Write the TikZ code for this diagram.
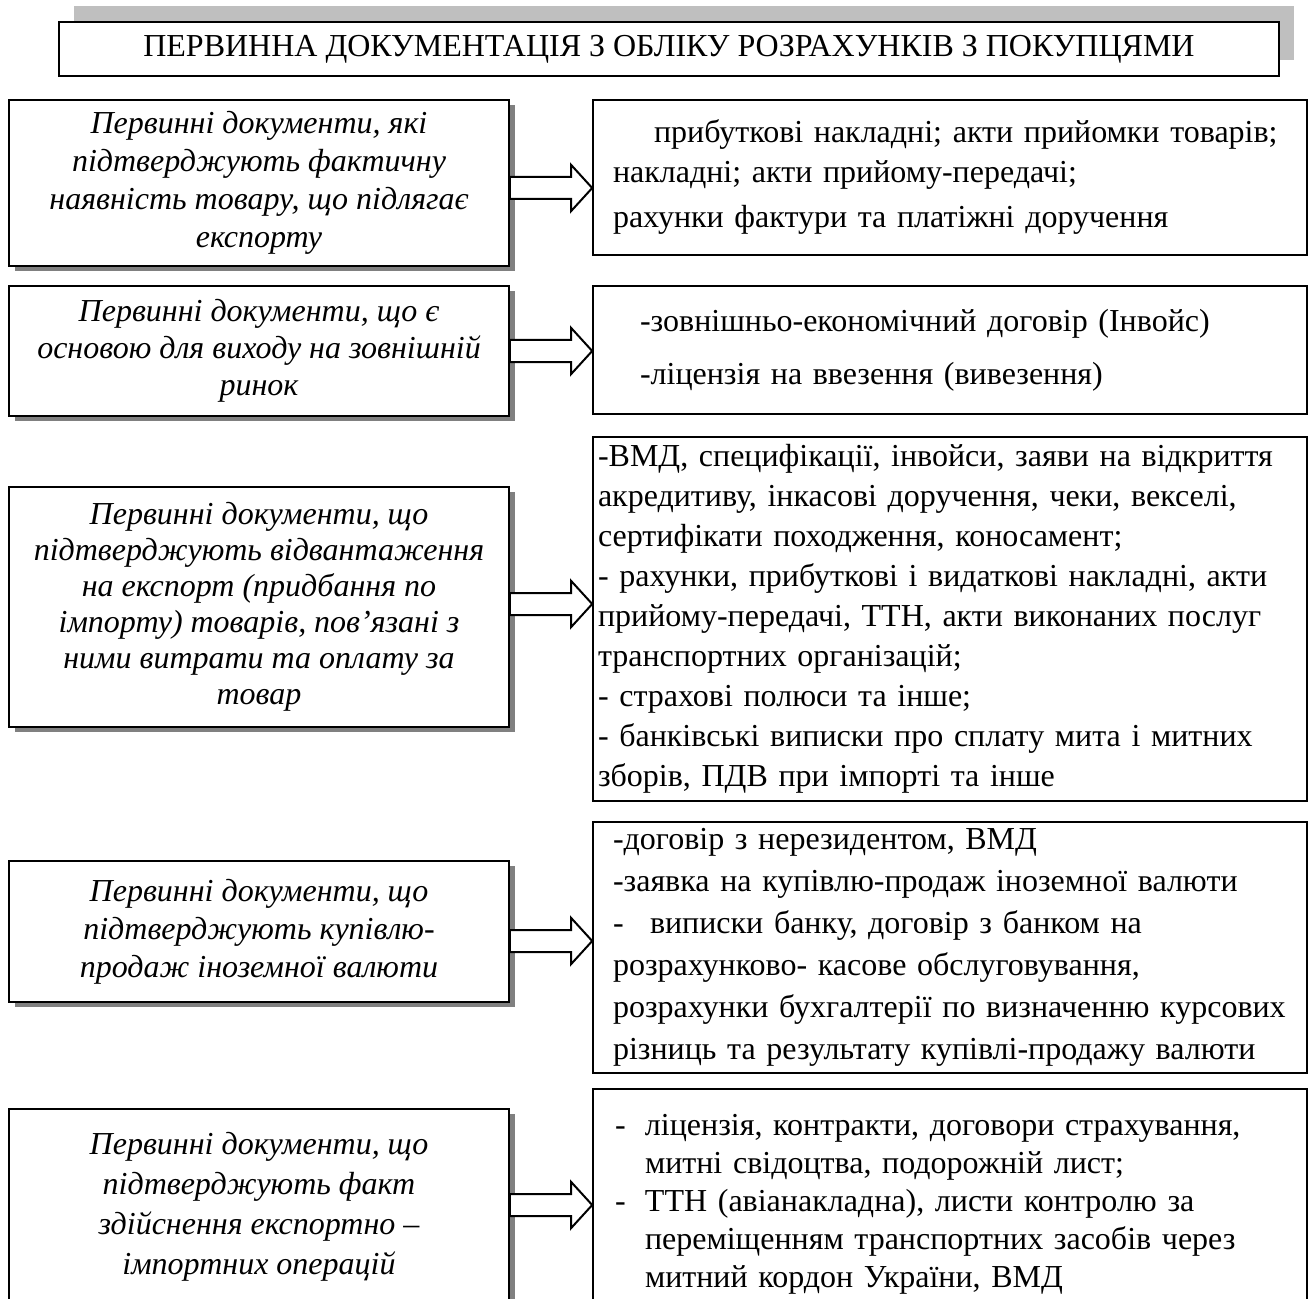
\documentclass[tikz,border=0pt]{standalone}
\usepackage{fontspec}
\setmainfont{Liberation Serif}
\usetikzlibrary{calc,shadows}

\newcommand{\fatarrow}[3]{%
    \draw[fatarrowline] let \p1=(#1.east), \p2=(#2.west), \p3=(0,#3) in
        (\x1,\y3+5.5pt) -- (\x2-10.5pt,\y3+5.5pt) -- (\x2-10.5pt,\y3+11.5pt) -- (\x2,\y3)
        -- (\x2-10.5pt,\y3-11.5pt) -- (\x2-10.5pt,\y3-5.5pt) -- (\x1,\y3-5.5pt) -- cycle;}

\begin{document}
\begin{tikzpicture}[x=0.5pt, y=-0.5pt,
        titlebox/.style={draw, fill=white, line width=0.8pt, minimum width=610pt, minimum height=27pt,
            font=\fontsize{16}{19}\selectfont,
            general shadow={fill=black!25, shadow xshift=7.5pt, shadow yshift=8pt}},
        leftbox/.style={draw, fill=white, line width=0.8pt, minimum width=250pt, align=center,
            general shadow={fill=black!50, shadow xshift=3pt, shadow yshift=-2.5pt}},
        rightbox/.style={draw, fill=white, line width=0.8pt, minimum width=357pt, text width=352pt,
            inner xsep=2.5pt, align=left},
        fatarrowline/.style={draw, fill=white, line width=1pt}]
    \useasboundingbox (0,0) rectangle (1310,1299);

    \node[titlebox] (title) at (669,49) {ПЕРВИННА ДОКУМЕНТАЦІЯ З ОБЛІКУ РОЗРАХУНКІВ З ПОКУПЦЯМИ};

    \begin{scope}
        \node[leftbox, minimum height=83pt, font=\itshape\fontsize{16}{19}\selectfont] (prim1) at (259,183)
            {Первинні документи, які\\підтверджують фактичну\\наявність товару, що підлягає\\експорту};
        \node[leftbox, minimum height=65pt, font=\itshape\fontsize{16}{18.5}\selectfont] (prim2) at (259,351)
            {Первинні документи, що є\\основою для виходу на зовнішній\\ринок};
        \node[leftbox, minimum height=120pt, font=\itshape\fontsize{16}{18}\selectfont] (prim3) at (259,607)
            {Первинні документи, що\\підтверджують відвантаження\\на експорт (придбання по\\імпорту) товарів, пов’язані з\\ними витрати та оплату за\\товар};
        \node[leftbox, minimum height=70.5pt, font=\itshape\fontsize{16}{19}\selectfont] (prim4) at (259,931.5)
            {Первинні документи, що\\підтверджують купівлю-\\продаж іноземної валюти};
        \node[leftbox, minimum height=98pt, font=\itshape\fontsize{16}{20}\selectfont] (prim5) at (259,1207)
            {Первинні документи, що\\підтверджують факт\\здійснення експортно –\\імпортних операцій};
    \end{scope}

    \begin{scope}
        \node[rightbox, minimum height=77.5pt, font=\fontsize{16}{20}\selectfont] (docs1) at (950,177.5)
            {\leftskip=7.5pt \hspace*{20.5pt}прибуткові накладні; акти прийомки товарів;\\
            накладні; акти прийому-передачі;\\[2.5pt]
            рахунки фактури та платіжні доручення\par};
        \node[rightbox, minimum height=64pt, font=\fontsize{16}{20}\selectfont] (docs2) at (950,350)
            {\leftskip=21pt -зовнішньо-економічний договір (Інвойс)\\[6.5pt]
            -ліцензія на ввезення (вивезення)\par};
        \node[rightbox, minimum height=182pt, font=\fontsize{16}{20}\selectfont] (docs3) at (950,619)
            {-ВМД, специфікації, інвойси, заяви на відкриття\\
            акредитиву, інкасові доручення, чеки, векселі,\\
            сертифікати походження, коносамент;\\
            - рахунки, прибуткові і видаткові накладні, акти\\
            прийому-передачі, ТТН, акти виконаних послуг\\
            транспортних організацій;\\
            - страхові полюси та інше;\\
            - банківські виписки про сплату мита і митних\\
            зборів, ПДВ при імпорті та інше\par};
        \node[rightbox, minimum height=124.5pt, font=\fontsize{16}{21}\selectfont] (docs4) at (950,947.5)
            {\leftskip=7.5pt -договір з нерезидентом, ВМД\\
            -заявка на купівлю-продаж іноземної валюти\\
            \makebox[18.5pt][l]{-}виписки банку, договір з банком на\\
            розрахунково- касове обслуговування,\\
            розрахунки бухгалтерії по визначенню курсових\\
            різниць та результату купівлі-продажу валюти\par};
        \node[rightbox, minimum height=115.5pt, font=\fontsize{16}{19}\selectfont] (docs5) at (950,1204.5)
            {\leftskip=8.5pt \makebox[15pt][l]{-}ліцензія, контракти, договори страхування,\\
            \hspace*{15pt}митні свідоцтва, подорожній лист;\\
            \makebox[15pt][l]{-}ТТН (авіанакладна), листи контролю за\\
            \hspace*{15pt}переміщенням транспортних засобів через\\
            \hspace*{15pt}митний кордон України, ВМД\par};
    \end{scope}

    \fatarrow{prim1}{docs1}{188}
    \fatarrow{prim2}{docs2}{351}
    \fatarrow{prim3}{docs3}{604}
    \fatarrow{prim4}{docs4}{941}
    \fatarrow{prim5}{docs5}{1205}
\end{tikzpicture}
\end{document}
